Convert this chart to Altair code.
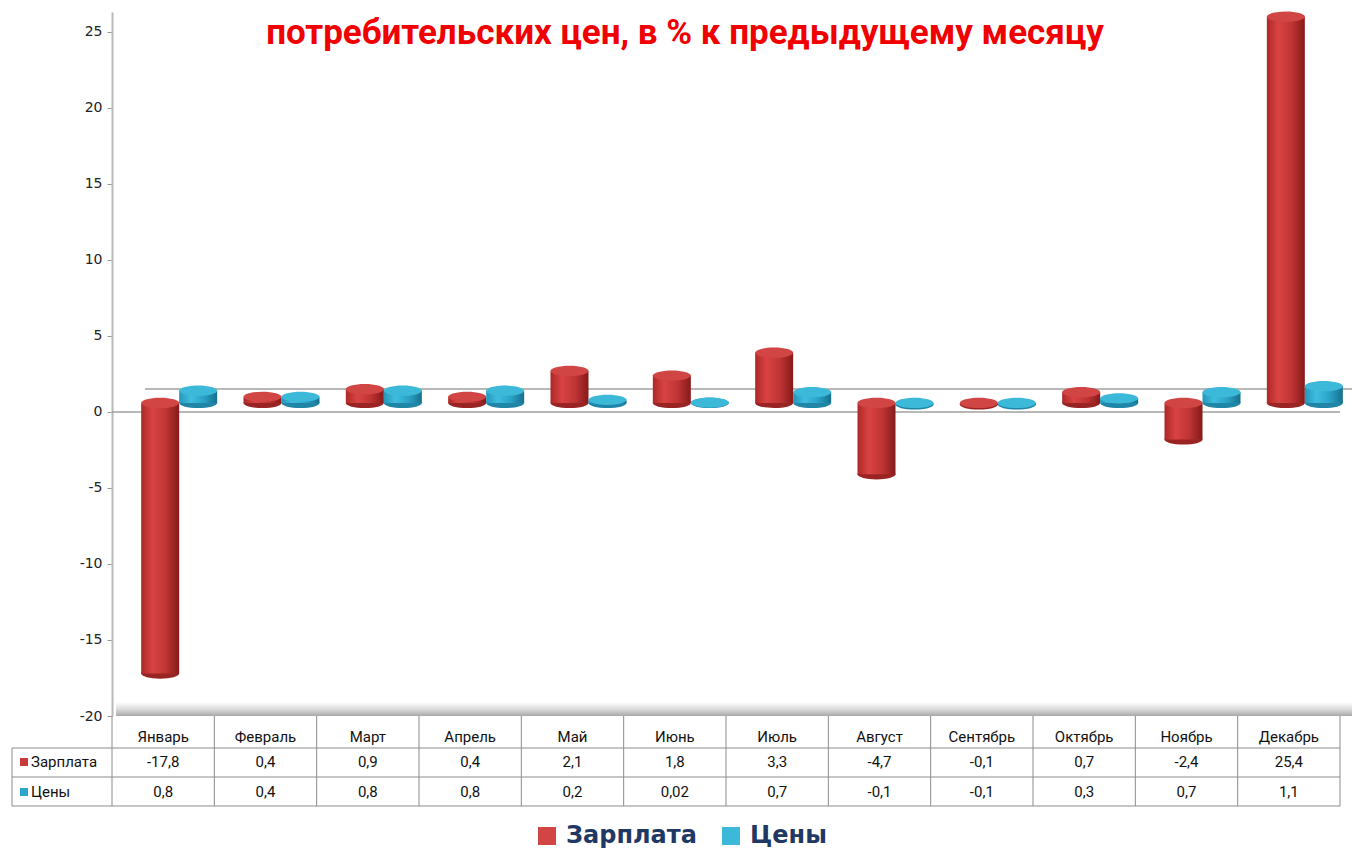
import altair as alt
import pandas as pd

months = ["Январь", "Февраль", "Март", "Апрель", "Май", "Июнь",
          "Июль", "Август", "Сентябрь", "Октябрь", "Ноябрь", "Декабрь"]
salary = [-17.8, 0.4, 0.9, 0.4, 2.1, 1.8, 3.3, -4.7, -0.1, 0.7, -2.4, 25.4]
prices = [0.8, 0.4, 0.8, 0.8, 0.2, 0.02, 0.7, -0.1, -0.1, 0.3, 0.7, 1.1]
series_names = ["Зарплата", "Цены"]
title_text = "потребительских цен, в % к предыдущему месяцу"
y_ticks = [-20, -15, -10, -5, 0, 5, 10, 15, 20, 25]

rows = []
for name, vals in zip(series_names, [salary, prices]):
    for m, v in zip(months, vals):
        rows.append(dict(month=m, series=name, value=v, lo=min(0, v), hi=max(0, v),
                         label=str(v).replace(".", ",")))
df = pd.DataFrame(rows)
mdf = pd.DataFrame({"month": months})

W, H = 1228, 704
BW = 38
LIFT = -9
ELLIPSE = "M -1 0 A 1 0.27 0 1 0 1 0 A 1 0.27 0 1 0 -1 0 Z"
GRID = "#8c8c8c"
TFONT = "Roboto"

xscale = alt.Scale(domain=months, paddingInner=0, paddingOuter=0)
yscale = alt.Scale(domain=[-20, 26.3], nice=False, zero=False)
x_enc = alt.X("month:N", sort=months, scale=xscale, axis=None)
yaxis = alt.Axis(values=y_ticks, labelExpr="'' + datum.value", title=None, grid=False,
                 labelFont="DejaVu Sans", labelFontSize=14, labelColor="#222222",
                 tickColor="#9a9a9a", tickSize=5, domainColor="#b8b8b8", domainWidth=2,
                 labelPadding=5)

color_scale = alt.Scale(domain=series_names, range=["#d24545", "#3cb8d8"])
legend = alt.Legend(title=None, orient="none", legendX=423, legendY=812,
                    direction="horizontal", symbolType="square", symbolSize=324,
                    symbolStrokeWidth=0, labelFont="DejaVu Sans", labelFontSize=24,
                    labelFontWeight="bold", labelColor="#1F3864", columnPadding=22,
                    labelOffset=7)


def grad(stops):
    return {"gradient": "linear", "x1": 0, "y1": 0, "x2": 1, "y2": 0,
            "stops": [{"offset": o, "color": c} for o, c in stops]}


def cylinder(name, xoff, stops, bottom_color):
    base = alt.Chart(df).transform_filter(alt.datum.series == name)
    bottom = base.mark_point(shape=ELLIPSE, size=BW * BW, filled=True, opacity=1,
                             strokeWidth=0, color=bottom_color, xOffset=xoff,
                             yOffset=LIFT).encode(
        x=x_enc, y=alt.Y("lo:Q", scale=yscale, axis=yaxis))
    body = base.mark_bar(width=BW, xOffset=xoff, yOffset=LIFT, y2Offset=LIFT,
                         color=grad(stops)).encode(
        x=x_enc, y=alt.Y("lo:Q", scale=yscale, axis=yaxis), y2="hi:Q")
    cap = base.mark_point(shape=ELLIPSE, size=BW * BW, filled=True, opacity=1,
                          strokeWidth=0, xOffset=xoff, yOffset=LIFT).encode(
        x=x_enc, y=alt.Y("hi:Q", scale=yscale, axis=yaxis),
        color=alt.Color("series:N", scale=color_scale, legend=legend))
    return [bottom, body, cap]


red_stops = [(0, "#ad2828"), (0.3, "#d94343"), (0.65, "#bf3434"), (1, "#861a1a")]
blue_stops = [(0, "#2596b8"), (0.3, "#3fbde0"), (0.65, "#2aa2c6"), (1, "#16708e")]

floor = alt.Chart(mdf.head(1)).mark_rect(
    y2Offset=-14,
    color={"gradient": "linear", "x1": 0, "y1": 0, "x2": 0, "y2": 1,
           "stops": [{"offset": 0, "color": "#ffffff"},
                     {"offset": 0.5, "color": "#dcdcdc"},
                     {"offset": 1, "color": "#a9a9a9"}]}).encode(
    x=alt.value(4), x2=alt.value(1240),
    y=alt.YDatum(-20, scale=yscale, axis=yaxis), y2=alt.Y2Datum(-20))

back_line = alt.Chart(mdf.head(1)).mark_rule(color="#a0a0a0", strokeWidth=1.5,
                                              yOffset=-23).encode(
    x=alt.value(33), x2=alt.value(1240), y=alt.YDatum(0, scale=yscale, axis=yaxis))

zero_line = alt.Chart(mdf.head(1)).mark_rule(color="#a0a0a0", strokeWidth=1.5).encode(
    x=alt.value(0), x2=alt.value(W),
    y=alt.YDatum(0, scale=yscale, axis=yaxis))

# data table
col_rules = alt.Chart(mdf).mark_rule(color=GRID).encode(
    x=alt.X("month:N", sort=months, scale=xscale, axis=None, bandPosition=0),
    y=alt.value(704), y2=alt.value(794))
right_rule = alt.Chart(mdf.head(1)).mark_rule(color=GRID).encode(
    x=alt.value(W), y=alt.value(704), y2=alt.value(794))
left_rule = alt.Chart(mdf.head(1)).mark_rule(color=GRID).encode(
    x=alt.value(-100), y=alt.value(736), y2=alt.value(794))
h_rules = [alt.Chart(mdf.head(1)).mark_rule(color=GRID).encode(
    x=alt.value(-100), x2=alt.value(W), y=alt.value(yy)) for yy in (736, 765, 794)]

month_text = alt.Chart(mdf).mark_text(font=TFONT, fontSize=15, color="#111111").encode(
    x=x_enc, y=alt.value(725), text="month:N")

row_texts = []
for name, yy, sq in zip(series_names, (750, 780), ("#c83a3a", "#2ea6cc")):
    base = alt.Chart(df).transform_filter(alt.datum.series == name)
    row_texts.append(base.mark_text(font=TFONT, fontSize=15, color="#111111").encode(
        x=x_enc, y=alt.value(yy), text="label:N"))
    lab = alt.Chart(pd.DataFrame({"series": [name]}))
    row_texts.append(lab.mark_square(size=64, color=sq, opacity=1).encode(
        x=alt.value(-88), y=alt.value(yy)))
    row_texts.append(lab.mark_text(font=TFONT, fontSize=15, color="#111111",
                                   align="left").encode(
        x=alt.value(-81), y=alt.value(yy), text="series:N"))

title = alt.Chart(pd.DataFrame({"t": [title_text]})).mark_text(
    font=TFONT, fontSize=35, fontWeight="bold", color="#f00000",
    align="center", baseline="alphabetic").encode(
    x=alt.value(573), y=alt.value(32), text="t:N")

layers = ([floor, back_line, zero_line]
          + cylinder("Зарплата", -3, red_stops, "#9a2424")
          + cylinder("Цены", 35, blue_stops, "#1f86a8")
          + [col_rules, right_rule, left_rule] + h_rules
          + [month_text] + row_texts + [title])

chart = alt.layer(*layers).properties(
    width=W, height=H,
    padding={"left": 104, "top": 4, "right": 14, "bottom": 134},
    autosize=alt.AutoSizeParams(type="none"),
    background="white",
).configure_view(stroke=None)

chart.save("out.html", embed_options={"renderer": "svg", "actions": False})
